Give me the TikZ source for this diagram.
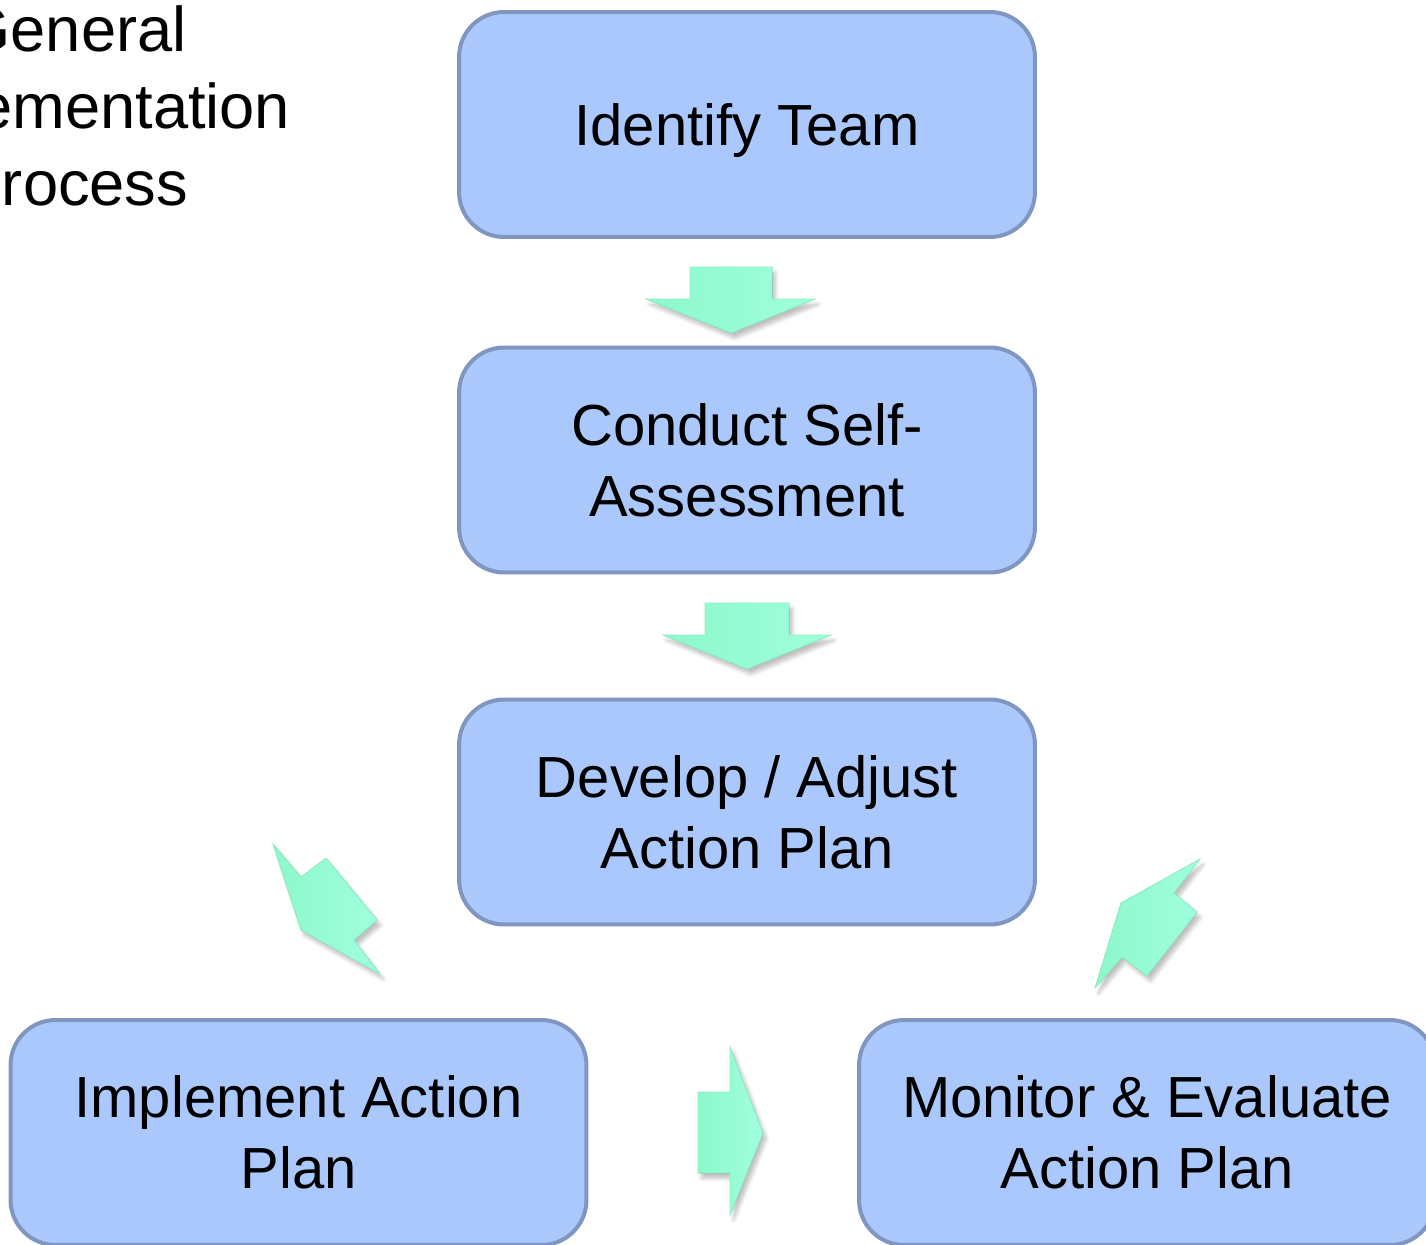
\documentclass[tikz,border=0pt]{standalone}
\usepackage{fontspec}
\setmainfont{Liberation Sans}
\usepackage{tikz}
\usetikzlibrary{shadows.blur}
\definecolor{boxfill}{RGB}{171,200,252}
\definecolor{boxline}{RGB}{128,150,192}
\definecolor{mintA}{RGB}{160,255,222}
\definecolor{mintB}{RGB}{140,248,202}
\definecolor{mintline}{RGB}{138,242,196}

\begin{document}
\begin{tikzpicture}[x=0.02cm, y=-0.02cm,
  stepbox/.style={draw=boxline, fill=boxfill, line width=0.08cm, rounded corners=0.9cm,
    minimum width=11.52cm, minimum height=4.5cm, align=center,
    font=\fontsize{33}{40.5}\selectfont},
  blockarrow/.style={draw=mintline, line width=0.4pt, left color=mintB, right color=mintA,
    blur shadow={shadow xshift=2pt, shadow yshift=-3pt, shadow opacity=25, shadow blur steps=6}}]
\path[use as bounding box, clip] (0,0) rectangle (1426,1244);
\node [align=center, font=\fontsize{36}{43.7}\selectfont] (title) at (74,106) {General\\Implementation\\Process};
\node [stepbox, text depth=0pt] (team) at (747,124.5) {Identify Team};
\node [stepbox] (assess) at (747,460) {Conduct Self-\\Assessment};
\node [stepbox] (plan) at (747,812) {Develop / Adjust\\Action Plan};
\node [stepbox] (implement) at (298.5,1132.5) {Implement Action\\Plan};
\node [stepbox] (monitor) at (1147,1132.5) {Monitor \& Evaluate\\Action Plan};
% block arrows
\filldraw [blockarrow] (690,267) -- (772,267) -- (772,299) -- (815,299) -- (731,333) -- (646,299) -- (690,299) -- cycle;
\filldraw [blockarrow] (705,603) -- (789,603) -- (789,635) -- (831,635) -- (747,669) -- (663,635) -- (705,635) -- cycle;
\filldraw [blockarrow] (273,844) -- (301,877) -- (326,858) -- (377,920) -- (354,940) -- (380,974) -- (301,930) -- cycle;
\filldraw [blockarrow] (698,1092) -- (730,1092) -- (730,1047) -- (763,1133) -- (730,1215) -- (730,1173) -- (698,1173) -- cycle;
\filldraw [blockarrow] (1200,859) -- (1174,893) -- (1197,912) -- (1147,976) -- (1122,957) -- (1095,988) -- (1121,903) -- cycle;
\end{tikzpicture}
\end{document}
